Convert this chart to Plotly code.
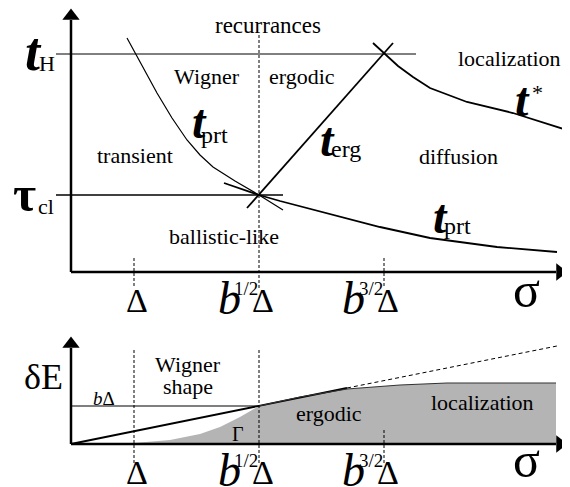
import plotly.graph_objects as go

# schematic drawn in picture coordinates (x to the right, y downward)
# ---- upper panel ----
tH_x = [56, 416]
tH_y = [54, 54]
tcl_x = [56, 283]
tcl_y = [195, 195]
tprt_up_x = [127, 140, 157, 172, 187, 200, 213, 235, 259, 283]
tprt_up_y = [38, 62, 93, 118, 140, 155, 167, 181, 195, 210]
tprt_lo_x = [224, 259, 280, 330, 380, 430, 497, 557]
tprt_lo_y = [183, 195, 201, 214, 227, 238, 247, 252]
terg_x = [247, 393]
terg_y = [208, 43]
tstar_x = [373, 384, 398, 413, 430, 467, 513, 570]
tstar_y = [43, 53, 66, 77, 88, 102, 113, 131]
dash_top_x = [134, 259, 384]
dash_top_y0 = [258, 35, 258]
dash_top_y1 = [288, 288, 288]

# ---- lower panel ----
bdelta_x = [71, 259]
bdelta_y = [406, 406]
slope_solid_x = [71, 347]
slope_solid_y = [444, 388]
slope_dash_x = [347, 557]
slope_dash_y = [388, 346]
gray_x = [134, 170, 200, 220, 240, 259, 300, 347, 400, 447, 556, 556, 134]
gray_y = [443, 440, 434, 427, 417, 406, 397, 389, 385, 383, 383, 444, 444]
edge_x = [259, 300, 347, 400, 447, 556]
edge_y = [406, 397, 389, 385, 383, 383]
dash_bot_x = [134, 259, 384]
dash_bot_y0 = [350, 350, 430]
dash_bot_y1 = [465, 465, 465]

SERIF = 'Liberation Serif'
BLACK = '#000000'

fig = go.Figure()


def seg(x, y, width=1.5, dash='solid', color=BLACK):
    fig.add_trace(go.Scatter(x=x, y=y, mode='lines', hoverinfo='skip',
                             line=dict(color=color, width=width, dash=dash),
                             showlegend=False))


# gray area first
fig.add_trace(go.Scatter(x=gray_x, y=gray_y, mode='lines', fill='toself',
                         fillcolor='#b4b4b4', line=dict(width=0),
                         hoverinfo='skip', showlegend=False))

# axes with arrows
for ax_y, top in [(272, 8), (444, 336)]:
    seg([71, 71], [ax_y, top + 12], width=2.5)
    seg([71, 556], [ax_y, ax_y], width=2.5)
    fig.add_trace(go.Scatter(x=[71], y=[top + 8], mode='markers', hoverinfo='skip',
                             marker=dict(symbol='triangle-up', size=15, color=BLACK),
                             showlegend=False))
    fig.add_trace(go.Scatter(x=[560], y=[ax_y], mode='markers', hoverinfo='skip',
                             marker=dict(symbol='triangle-right', size=15, color=BLACK),
                             showlegend=False))

seg(tH_x, tH_y, width=1)
seg(tcl_x, tcl_y, width=1.5)
seg(tprt_up_x, tprt_up_y, width=1.2)
seg(tprt_lo_x, tprt_lo_y, width=1.8)
seg(terg_x, terg_y, width=1.8)
seg(tstar_x, tstar_y, width=1.8)
for x, a, b in zip(dash_top_x, dash_top_y0, dash_top_y1):
    seg([x, x], [a, b], width=1, dash='3px,2px')

seg(bdelta_x, bdelta_y, width=1.2)
seg(slope_solid_x, slope_solid_y, width=1.8)
seg(slope_dash_x, slope_dash_y, width=1, dash='4px,3px')
seg(edge_x, edge_y, width=1.2, color='#333333')
for x, a, b in zip(dash_bot_x, dash_bot_y0, dash_bot_y1):
    seg([x, x], [a, b], width=1, dash='3px,2px')

# text labels: (text, x, y, size)
labels = [
    ('<b><i>t</i></b>', 33, 52, 54), ('H', 47, 63, 22),
    ('<b>τ</b>', 24, 194, 50), ('cl', 46, 206, 22),
    ('recurrances', 268, 25, 23),
    ('Wigner', 207, 76, 22), ('ergodic', 302, 76, 22),
    ('localization', 509, 58, 22),
    ('<b><i>t</i></b>', 199, 121, 48), ('prt', 214, 135, 24),
    ('transient', 135, 155, 22),
    ('<b><i>t</i></b>', 327, 139, 48), ('erg', 346, 149, 24),
    ('diffusion', 458, 156, 22),
    ('<b><i>t</i></b>', 522, 99, 48), ('*', 537, 92, 22),
    ('ballistic-like', 224, 236, 22),
    ('<b><i>t</i></b>', 440, 216, 48), ('prt', 457, 226, 24),
    # top x labels
    ('Δ', 137, 300, 34),
    ('<i>b</i>', 229, 298, 46), ('1/2', 246, 288, 19), ('Δ', 263, 300, 34),
    ('<i>b</i>', 353, 298, 46), ('3/2', 371, 288, 19), ('Δ', 388, 300, 34),
    ('σ', 526, 290, 50),
    # lower panel
    ('δE', 43, 377, 36),
    ('<i>b</i>Δ', 104, 398, 19),
    ('Wigner', 188, 364, 22), ('shape', 188, 386, 22),
    ('Γ', 238, 434, 20),
    ('ergodic', 329, 413, 22), ('localization', 482, 402, 22),
    ('Δ', 137, 472, 34),
    ('<i>b</i>', 229, 470, 46), ('1/2', 246, 460, 19), ('Δ', 263, 472, 34),
    ('<i>b</i>', 353, 470, 46), ('3/2', 371, 460, 19), ('Δ', 388, 472, 34),
    ('σ', 526, 460, 50),
]
for txt, x, y, size in labels:
    fig.add_annotation(x=x, y=y, xref='x', yref='y', text=txt, showarrow=False,
                       xanchor='center', yanchor='middle',
                       font=dict(family=SERIF, size=size, color=BLACK))

# the page body adds an 8px margin, so the figure covers 8..570 of the window
fig.update_layout(
    width=562, height=479,
    margin=dict(l=0, r=0, t=0, b=0),
    paper_bgcolor='white', plot_bgcolor='white',
    xaxis=dict(range=[8, 570], visible=False, fixedrange=True),
    yaxis=dict(range=[487, 8], visible=False, fixedrange=True),
)

fig.write_html('out.html')
